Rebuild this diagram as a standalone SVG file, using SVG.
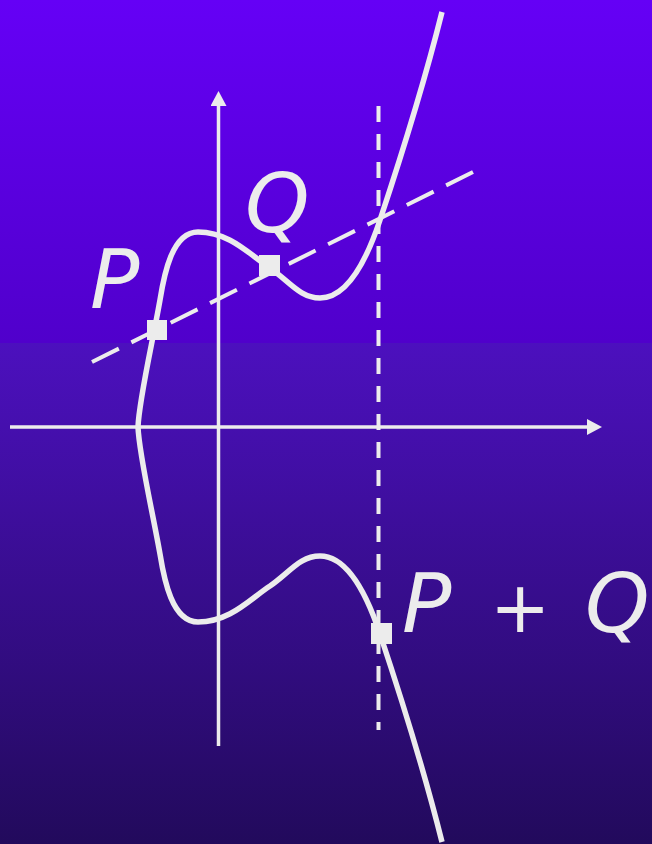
<svg xmlns="http://www.w3.org/2000/svg" width="652" height="844" viewBox="0 0 652 844">
  <defs>
    <linearGradient id="bgTop" x1="0" y1="0" x2="0" y2="1">
      <stop offset="0" stop-color="#6500F6"/>
      <stop offset="1" stop-color="#5000CB"/>
    </linearGradient>
    <linearGradient id="bgBot" x1="0" y1="0" x2="0" y2="1">
      <stop offset="0" stop-color="#4C10BE"/>
      <stop offset="1" stop-color="#220A5C"/>
    </linearGradient>
    <marker id="arrow" viewBox="0 0 16 16" refX="0" refY="8" markerWidth="16" markerHeight="16" markerUnits="userSpaceOnUse" orient="auto">
      <path d="M0,0 L15,8 L0,16 Z" fill="#ECECEC"/>
    </marker>
    <style>
      .axis { stroke: #ECECEC; stroke-width: 3.5; fill: none; }
      .curve { stroke: #ECECEC; stroke-width: 5.5; fill: none; }
      .dash { stroke: #ECECEC; stroke-width: 4; fill: none; }
      .pt { fill: #ECECEC; }
      .lbl { fill: #ECECEC; font-family: "DejaVu Sans", "Bitstream Vera Sans", sans-serif; font-style: italic; font-weight: normal; font-size: 82px; }
    </style>
  </defs>
  <rect x="0" y="0" width="652" height="343" fill="url(#bgTop)"/>
  <rect x="0" y="343" width="652" height="501" fill="url(#bgBot)"/>

  <g id="axes">
    <line class="axis" x1="10" y1="427" x2="587" y2="427" marker-end="url(#arrow)"/>
    <line class="axis" x1="218.5" y1="746" x2="218.5" y2="106" marker-end="url(#arrow)"/>
  </g>

  <g id="connectors">
    <path id="curve-upper" class="curve" d="M138,427 C139,400 152,345 160,300 C164,275 172,232 198,232 C230,232 250,255 270,268 C290,282 300,298 320,298 C345,298 365,265 380,220 C395,175 420,100 442,12"/>
    <path id="curve-lower" class="curve" d="M138,427 C139,454 152,509 160,554 C164,579 172,622 198,622 C230,622 250,599 270,586 C290,572 300,556 320,556 C345,556 365,589 380,634 C395,679 420,754 442,842"/>
    <line id="secant" class="dash" x1="92" y1="362" x2="473" y2="172" stroke-dasharray="30 13.97"/>
    <line id="vertical" class="dash" x1="378.5" y1="106" x2="378.5" y2="730" stroke-dasharray="16 12"/>
  </g>

  <g id="P">
    <rect class="pt" x="147" y="320" width="20" height="20"/>
    <text class="lbl" x="90" y="308">P</text>
  </g>
  <g id="Q">
    <rect class="pt" x="259" y="255" width="21" height="21"/>
    <text class="lbl" x="245" y="232">Q</text>
  </g>
  <g id="PplusQ">
    <rect class="pt" x="371" y="623" width="21" height="21"/>
    <text class="lbl" y="632"><tspan x="402">P</tspan> <tspan x="490" font-size="72">+</tspan> <tspan x="585">Q</tspan></text>
  </g>
</svg>
